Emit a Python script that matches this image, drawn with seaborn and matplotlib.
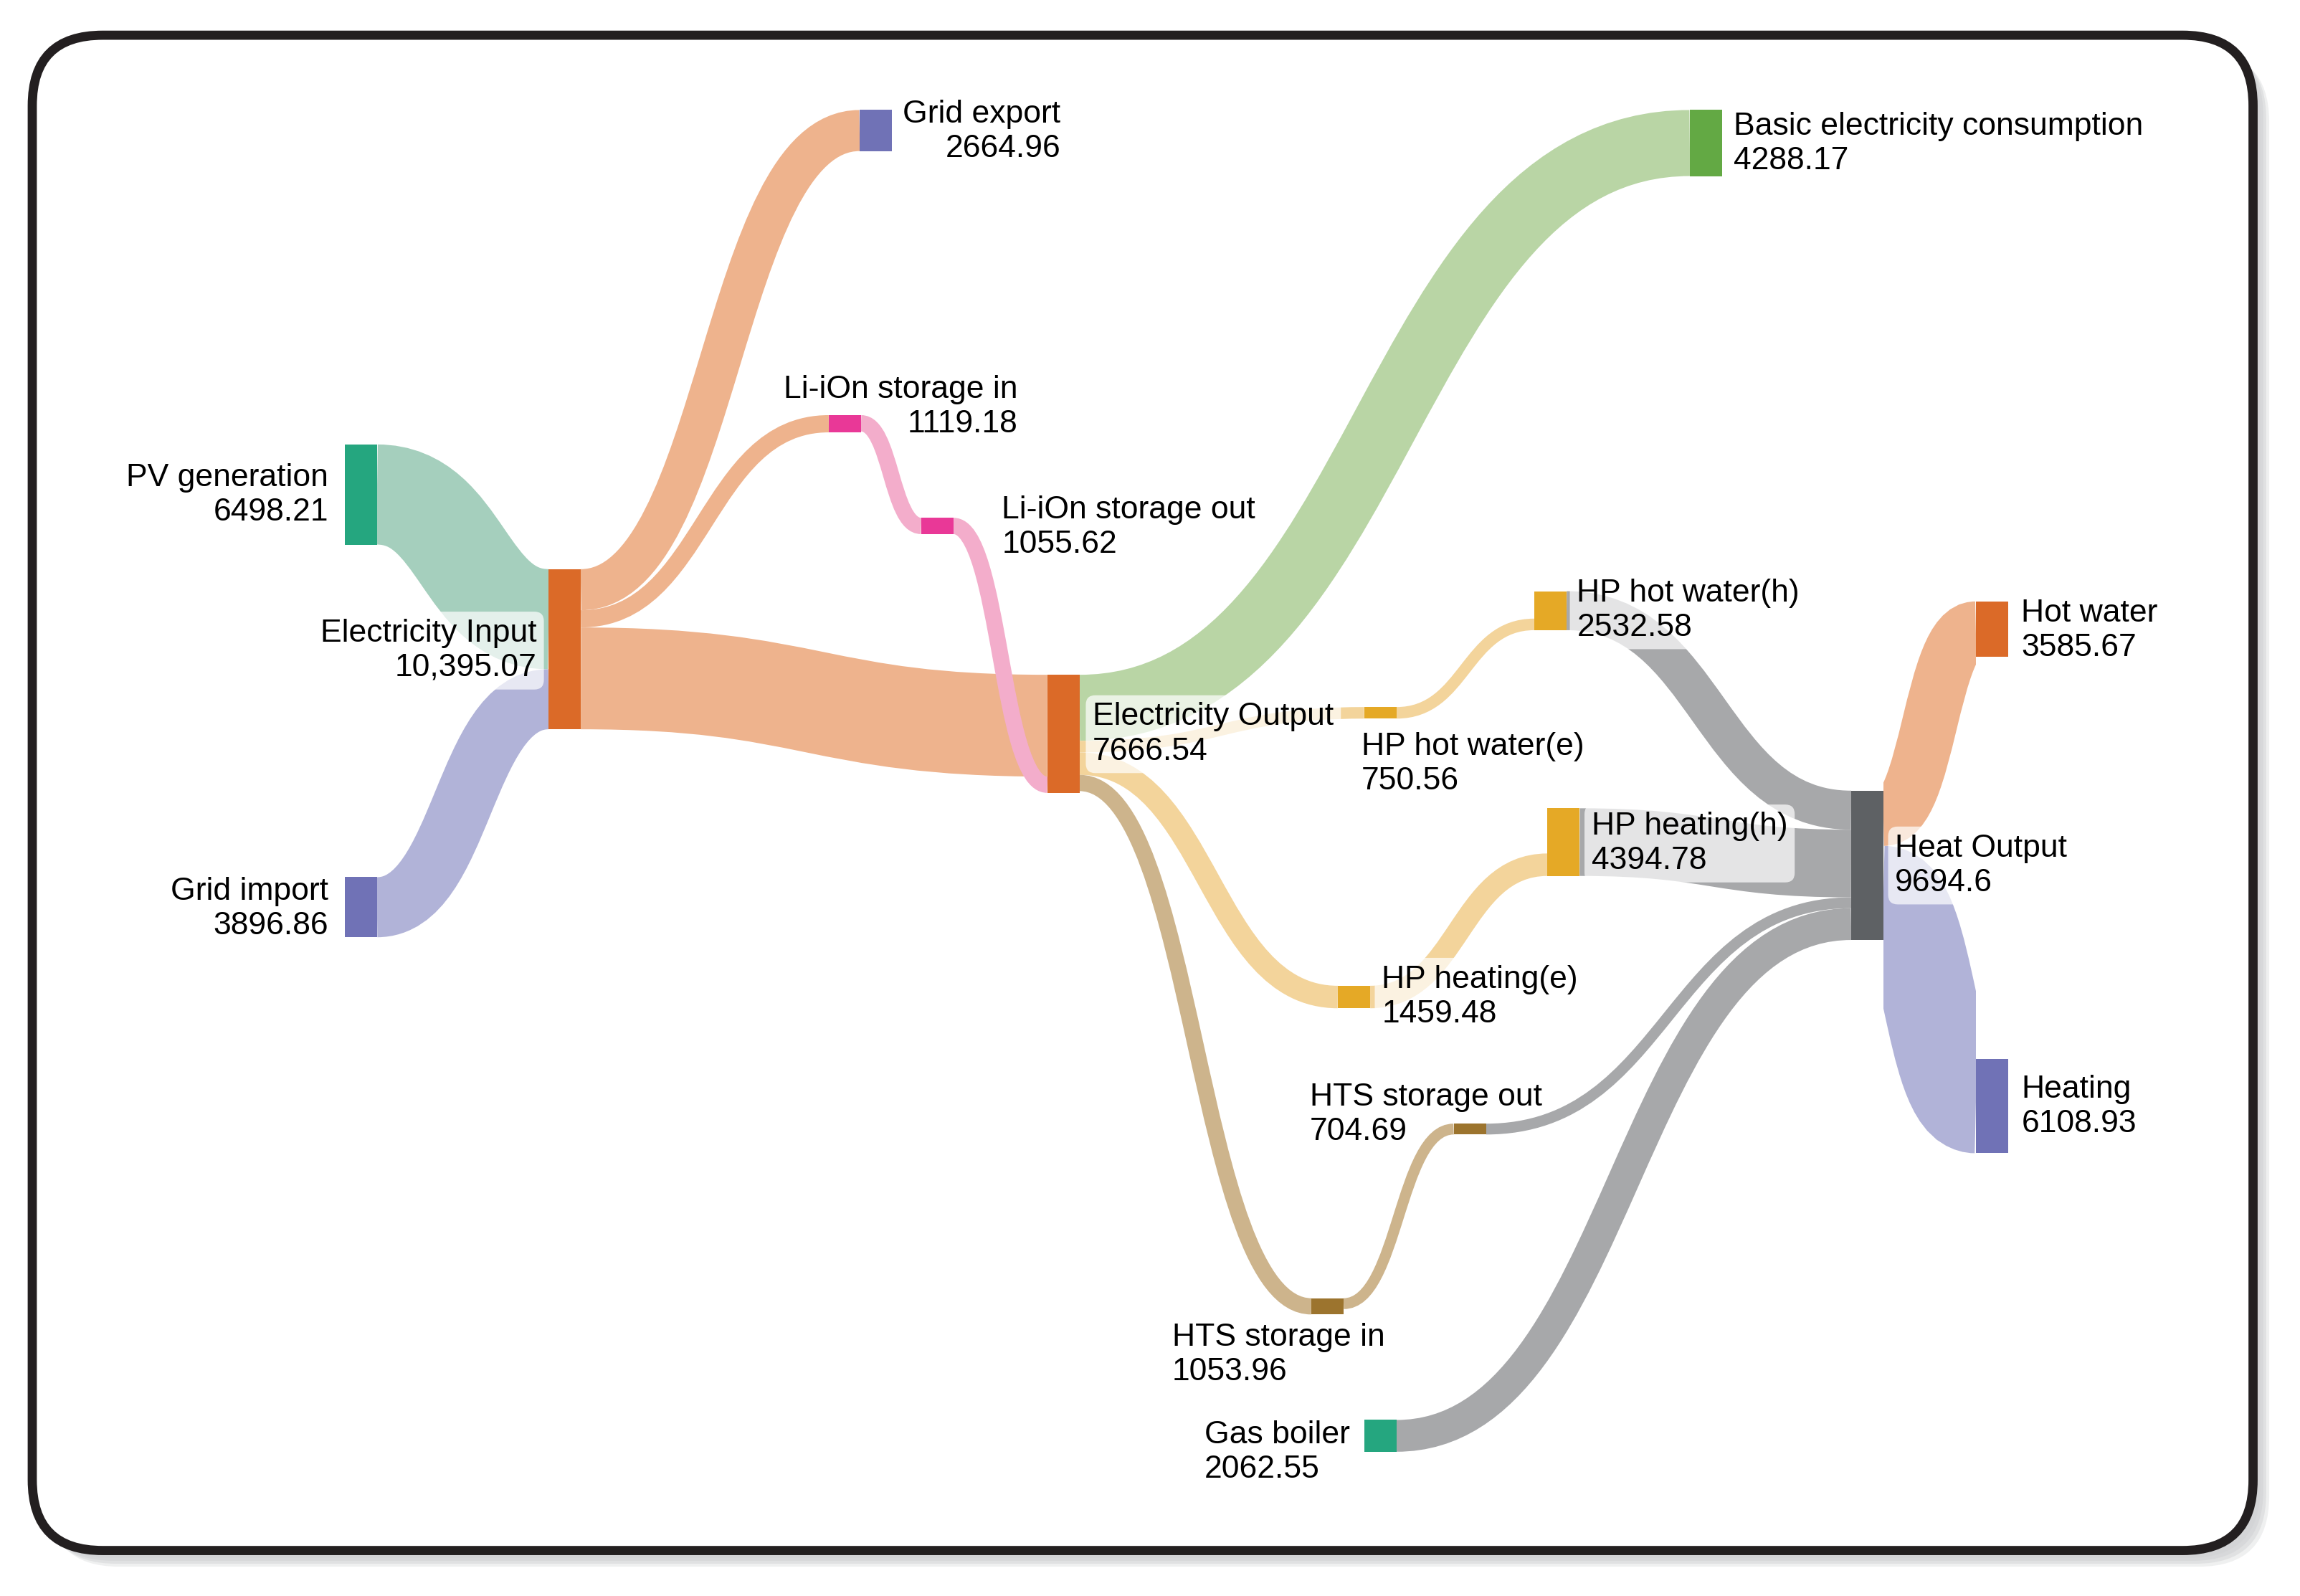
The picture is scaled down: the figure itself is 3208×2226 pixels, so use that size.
import matplotlib
matplotlib.use("Agg")
import matplotlib.pyplot as plt
import seaborn as sns
from matplotlib.path import Path
from matplotlib.patches import PathPatch, FancyBboxPatch, Rectangle

# ---- data ----
nodes = ["PV generation", "Grid import", "Electricity Input", "Grid export",
         "Li-iOn storage in", "Li-iOn storage out", "Electricity Output",
         "Basic electricity consumption", "HP hot water(e)", "HP heating(e)",
         "HTS storage in", "HP hot water(h)", "HP heating(h)", "HTS storage out",
         "Gas boiler", "Heat Output", "Hot water", "Heating"]
node_values = [6498.21, 3896.86, 10395.07, 2664.96,
               1119.18, 1055.62, 7666.54,
               4288.17, 750.56, 1459.48,
               1053.96, 2532.58, 4394.78, 704.69,
               2062.55, 9694.6, 3585.67, 6108.93]

link_source = ["PV generation", "Grid import",
               "Electricity Input", "Electricity Input", "Electricity Input",
               "Li-iOn storage in", "Li-iOn storage out",
               "Electricity Output", "Electricity Output", "Electricity Output", "Electricity Output",
               "HP hot water(e)", "HP heating(e)", "HTS storage in",
               "HP hot water(h)", "HP heating(h)", "HTS storage out", "Gas boiler",
               "Heat Output", "Heat Output"]
link_target = ["Electricity Input", "Electricity Input",
               "Grid export", "Li-iOn storage in", "Electricity Output",
               "Li-iOn storage out", "Electricity Output",
               "Basic electricity consumption", "HP hot water(e)", "HP heating(e)", "HTS storage in",
               "HP hot water(h)", "HP heating(h)", "HTS storage out",
               "Heat Output", "Heat Output", "Heat Output", "Heat Output",
               "Hot water", "Heating"]
link_value = [6498.21, 3896.86,
              2664.96, 1119.18, 6610.93,
              1055.62, 1055.62,
              4288.17, 750.56, 1459.48, 1053.96,
              750.56, 1459.48, 704.69,
              2532.58, 4394.78, 704.69, 2062.55,
              3585.67, 6108.93]
# link coloured after its source ('s') or its target ('t') node
link_color_from = ["s", "s", "s", "s", "s", "s", "s", "t", "t", "t", "t",
                   "s", "s", "s", "t", "t", "t", "t", "t", "t"]

# ---- layout (canvas units: 1568 x 1088) ----
W, H = 1568, 1088
PX = 3208 / W              # output pixels per canvas unit
SCALE = 0.0105             # canvas units per value unit
NODE_W = 22
node_x = [235, 235, 374, 586, 565, 628, 714, 1152, 930, 912,
          894, 1046, 1055, 991, 930, 1262, 1347, 1347]
node_top = [303, 598, 388, 75, 283, 353, 460, 75, 482, 672,
            885, 403, 551, 766, 968, 539, 410, 722]
node_pal = [0, 2, 1, 2, 3, 3, 1, 4, 5, 5, 6, 5, 5, 6, 0, 7, 1, 2]
bottom_inflow = {"HP hot water(h)", "HP heating(h)"}

# label anchor, alignment
label_pos = {
    "PV generation": (224, 337.5, "right"),
    "Grid import": (224, 619.5, "right"),
    "Electricity Input": (366, 443.5, "right"),
    "Grid export": (723, 89.5, "right"),
    "Li-iOn storage in": (694, 277.5, "right"),
    "Li-iOn storage out": (683, 359.5, "left"),
    "Electricity Output": (745, 500.5, "left"),
    "Basic electricity consumption": (1182, 98, "left"),
    "HP hot water(e)": (928, 521, "left"),
    "HP heating(e)": (942, 679.5, "left"),
    "HTS storage in": (799, 923.5, "left"),
    "HP hot water(h)": (1075, 416, "left"),
    "HP heating(h)": (1085, 575, "left"),
    "HTS storage out": (893, 760, "left"),
    "Gas boiler": (821, 990, "left"),
    "Heat Output": (1292, 590, "left"),
    "Hot water": (1378, 430, "left"),
    "Heating": (1378, 754.5, "left"),
}
labels_under_links = {"Li-iOn storage in", "HTS storage out"}
comma_nodes = {"Electricity Input"}

sns.set_theme(style="white")
plt.rcParams["font.family"] = ["Liberation Sans", "DejaVu Sans"]
# Dark2-like hues as printed, and the lighter tints used for the ribbons
node_cols = sns.color_palette(["#25a67f", "#db6a28", "#7072b6", "#e93897",
                               "#63a944", "#e5a926", "#9c742e", "#5e6164"])
link_cols = sns.color_palette(["#a5cfbd", "#eeb38d", "#b1b3d8", "#f3adcb",
                               "#b9d5a5", "#f3d49b", "#cdb48c", "#a7a8aa"])

fig = plt.figure(figsize=(16.04, 11.13), dpi=200)
ax = fig.add_axes([0, 0, 1, 1])
ax.set_xlim(0, W)
ax.set_ylim(H, 0)
ax.axis("off")

# frame with soft shadow
for i, off in enumerate([11, 9, 7, 5]):
    ax.add_patch(FancyBboxPatch((22 + off, 24 + off), 1514, 1033,
                                boxstyle="round,pad=0,rounding_size=48",
                                fc="#d3d4d6", ec="none", alpha=0.35 + 0.15 * i, zorder=0))
ax.add_patch(FancyBboxPatch((22, 24), 1514, 1033, boxstyle="round,pad=0,rounding_size=48",
                            fc="white", ec="#231f20", lw=4.6, zorder=1))

idx = {n: i for i, n in enumerate(nodes)}
out_off = [0.0] * len(nodes)
in_off = [0.0] * len(nodes)
inflow = [0.0] * len(nodes)
for t, v in zip(link_target, link_value):
    inflow[idx[t]] += v

for s, t, v, cf in zip(link_source, link_target, link_value, link_color_from):
    si, ti = idx[s], idx[t]
    w = v * SCALE
    x0 = node_x[si] + NODE_W
    x1 = node_x[ti]
    y0 = node_top[si] + out_off[si] + w / 2
    out_off[si] += w
    if t in bottom_inflow:
        base = node_top[ti] + (node_values[ti] - inflow[ti]) * SCALE
    else:
        base = node_top[ti]
    y1 = base + in_off[ti] + w / 2
    in_off[ti] += w
    xm = (x0 + x1) / 2
    path = Path([(x0, y0), (xm, y0), (xm, y1), (x1, y1)],
                [Path.MOVETO, Path.CURVE4, Path.CURVE4, Path.CURVE4])
    col = link_cols[node_pal[si] if cf == "s" else node_pal[ti]]
    ribbon = PathPatch(path, fc="none", ec=col, lw=w * PX * 72 / 200,
                       capstyle="butt", zorder=2)
    ax.add_patch(ribbon)
    ribbon.set_clip_path(Rectangle((x0, 0), x1 - x0, H, transform=ax.transData))

for i, n in enumerate(nodes):
    ax.add_patch(Rectangle((node_x[i], node_top[i]), NODE_W, node_values[i] * SCALE,
                           fc=node_cols[node_pal[i]], ec="none", zorder=3))
    val = f"{node_values[i]:,.2f}" if n in comma_nodes else f"{node_values[i]}"
    lx, ly, al = label_pos[n]
    ax.text(lx, ly, f"{n}\n{val}", ha=al, va="center", multialignment=al,
            fontsize=16, color="black", linespacing=1.22,
            zorder=1.5 if n in labels_under_links else 2.5,
            bbox=dict(boxstyle="round,pad=0.22,rounding_size=0.3", fc="white", ec="none", alpha=0.7))

fig.savefig("out.png", dpi=200, facecolor="white")
